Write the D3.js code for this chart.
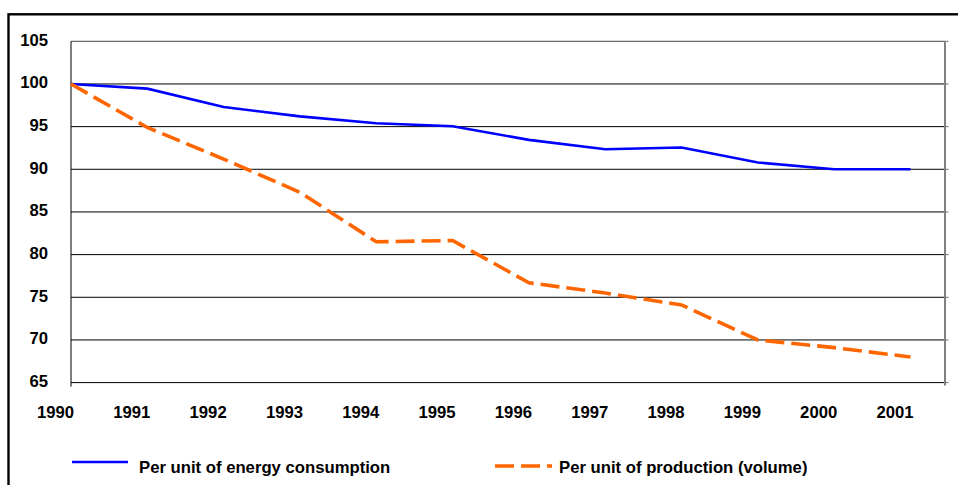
<!DOCTYPE html>
<html>
<head>
<meta charset="utf-8">
<script src="https://cdn.jsdelivr.net/npm/d3@7"></script>
<style>
  body { margin: 0; background: #fff; }
  svg { display: block; font-family: "Liberation Sans", Arial, sans-serif; }
  .lbl { font-size: 16.7px; font-weight: bold; fill: #000; }
</style>
</head>
<body>
<svg width="958" height="485"></svg>
<script>
// data (index, 1990 = 100)
const years = [1990, 1991, 1992, 1993, 1994, 1995, 1996, 1997, 1998, 1999, 2000, 2001];
const energy = [100, 99.45, 97.3, 96.2, 95.4, 95.05, 93.45, 92.35, 92.55, 90.8, 90.0, 90.0];
const production = [100, 94.9, 91.2, 87.3, 81.5, 81.65, 76.7, 75.5, 74.1, 70.0, 69.1, 68.0];
const yTicks = [65, 70, 75, 80, 85, 90, 95, 100, 105];
const legendNames = ["Per unit of energy consumption", "Per unit of production (volume)"];

const svg = d3.select('svg');

// outer frame (cut off on right and bottom like the picture)
svg.append('rect')
    .attr('x', 8.5).attr('y', 14.3)
    .attr('width', 1000).attr('height', 1000)
    .attr('fill', 'none').attr('stroke', '#000').attr('stroke-width', 2.4);

const plotL = 71, plotR = 945, plotT = 41.3, plotB = 382.6;

const x = d3.scaleLinear().domain([1990, 2001]).range([71, 910.5]);
const y = d3.scaleLinear().domain([65, 105]).range([plotB, plotT]);

const g = svg.append('g');

// gridlines
g.selectAll('line.grid')
    .data(yTicks)
    .enter()
    .append('line')
    .attr('class', 'grid')
    .attr('x1', plotL).attr('x2', plotR)
    .attr('y1', d => y(d)).attr('y2', d => y(d))
    .attr('stroke', d => d === 105 ? '#444' : '#000')
    .attr('stroke-width', 1);

// little ticks on the right edge
g.selectAll('line.rtick')
    .data(yTicks)
    .enter()
    .append('line')
    .attr('x1', plotR).attr('x2', plotR + 3.5)
    .attr('y1', d => y(d)).attr('y2', d => y(d))
    .attr('stroke', '#666');

// right border (gray) and left axis
g.append('line').attr('x1', plotR).attr('x2', plotR).attr('y1', plotT).attr('y2', plotB + 3)
    .attr('stroke', '#808080').attr('stroke-width', 2);
g.append('line').attr('x1', plotL).attr('x2', plotL).attr('y1', plotT).attr('y2', plotB + 4)
    .attr('stroke', '#000').attr('stroke-width', 1);

// y labels
g.selectAll('text.ylab')
    .data(yTicks)
    .enter()
    .append('text')
    .attr('class', 'lbl')
    .attr('x', 48)
    .attr('y', d => y(d) - 1.5)
    .attr('dy', '0.35em')
    .attr('text-anchor', 'end')
    .text(d => d);

// x labels (Excel put them a bit left of the points)
g.selectAll('text.xlab')
    .data(years)
    .enter()
    .append('text')
    .attr('class', 'lbl')
    .attr('x', d => x(d) - 15.5)
    .attr('y', 417.5)
    .attr('text-anchor', 'middle')
    .text(d => d);

const line = d3.line()
    .x((d, i) => x(years[i]))
    .y(d => y(d));

g.append('path')
    .attr('d', line(energy))
    .attr('fill', 'none')
    .attr('stroke', '#0000ff')
    .attr('stroke-width', 2.6);

g.append('path')
    .attr('d', line(production))
    .attr('fill', 'none')
    .attr('stroke', '#ff6600')
    .attr('stroke-width', 3.6)
    .attr('stroke-dasharray', '19,7');

// legend
const legend = svg.append('g');
legend.append('line')
    .attr('x1', 72).attr('x2', 128).attr('y1', 462).attr('y2', 462)
    .attr('stroke', '#0000ff').attr('stroke-width', 2.6);
legend.append('text').attr('class', 'lbl')
    .attr('x', 139).attr('y', 473).text(legendNames[0]);

legend.append('line')
    .attr('x1', 495).attr('x2', 552).attr('y1', 466).attr('y2', 466)
    .attr('stroke', '#ff6600').attr('stroke-width', 3.6)
    .attr('stroke-dasharray', '19,7');
legend.append('text').attr('class', 'lbl')
    .attr('x', 559).attr('y', 473).text(legendNames[1]);
</script>
</body>
</html>
